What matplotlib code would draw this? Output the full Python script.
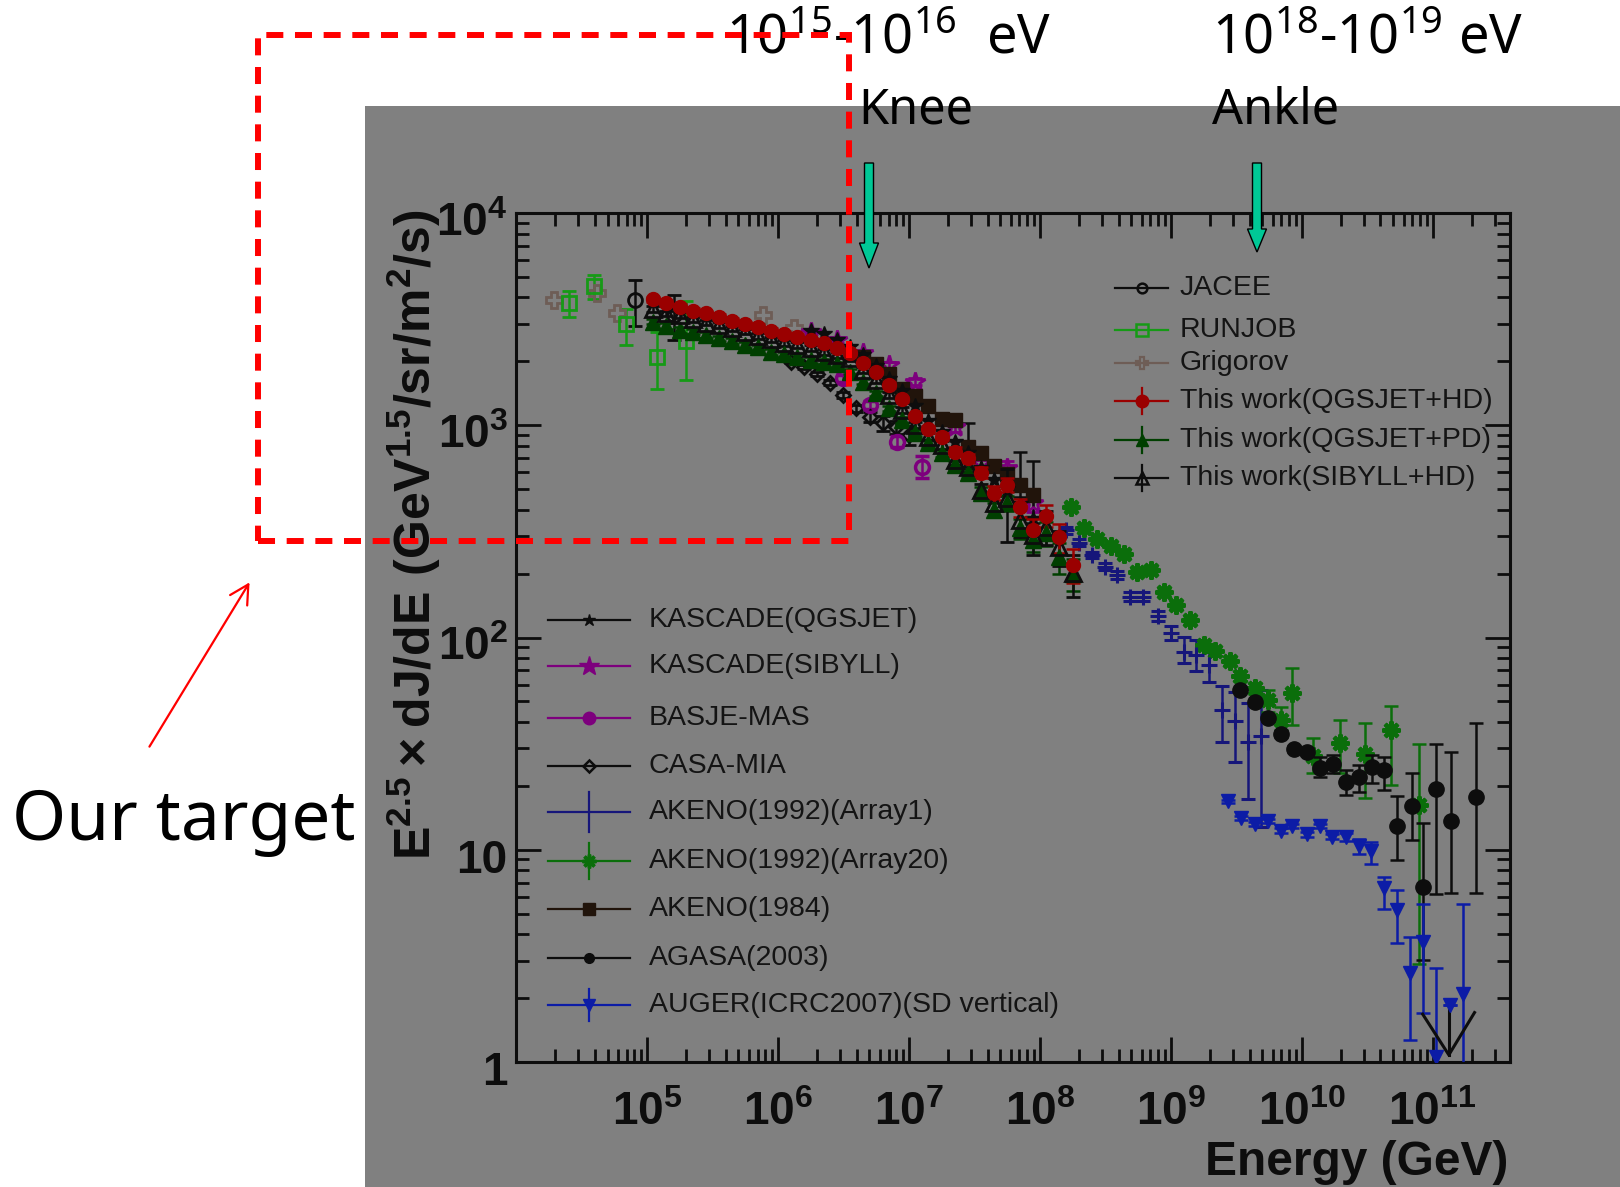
import numpy as np
import matplotlib
matplotlib.use("Agg")
import matplotlib.pyplot as plt
import matplotlib.transforms as mtransforms
from matplotlib.lines import Line2D
from matplotlib.patches import Rectangle, Polygon, FancyArrowPatch
from matplotlib.ticker import LogLocator, NullFormatter

plt.rcParams["font.family"] = ["Liberation Sans", "DejaVu Sans"]

# ------------------------------------------------------------------ data
# "This work" reconstructions share one energy grid (GeV)
work_energy = [1.12e5, 1.41e5, 1.78e5, 2.24e5, 2.82e5, 3.55e5, 4.47e5, 5.62e5, 7.08e5, 8.91e5,
               1.12e6, 1.41e6, 1.78e6, 2.24e6, 2.82e6, 3.55e6, 4.47e6, 5.62e6, 7.08e6, 8.91e6,
               1.12e7, 1.41e7, 1.78e7, 2.24e7, 2.82e7, 3.55e7, 4.47e7, 5.62e7, 7.08e7, 8.91e7,
               1.12e8, 1.41e8, 1.78e8]
qgsjet_hd = [3920, 3760, 3620, 3470, 3365, 3245, 3100, 2990, 2910, 2790,
             2690, 2610, 2520, 2430, 2300, 2200, 1970, 1790, 1550, 1325,
             1105, 957, 883, 752, 698, 598, 481, 524, 410, 321,
             375, 296, 220]
qgsjet_hd_err = [110, 100, 95, 90, 90, 85, 85, 80, 80, 75, 75, 70, 70, 65, 65, 60, 55, 50, 45, 40,
                 35, 35, 35, 35, 35, 35, 35, 40, 40, 40, 45, 45, 40]
qgsjet_pd = [3076, 2938, 2812, 2761, 2661, 2570, 2495, 2388, 2328, 2218,
             2158, 2104, 2028, 1995, 1940, 1786, 1603, 1413, 1202, 1059,
             916, 822, 738, 650, 594, 479, 399, 429, 327, 288,
             310, 240, 200]
qgsjet_pd_err = [90, 85, 80, 80, 75, 75, 70, 70, 65, 65, 60, 60, 60, 55, 55, 50, 45, 40, 35, 30,
                 30, 30, 30, 30, 30, 30, 30, 35, 35, 35, 40, 40, 35]
sibyll_hd = [3540, 3365, 3304, 3157, 3046, 2965, 2864, 2761, 2636, 2541,
             2450, 2388, 2307, 2218, 2150, 2066, 1820, 1633, 1390, 1180,
             1002, 883, 807, 685, 638, 495, 429, 453, 358, 304,
             333, 268, 201]
sibyll_hd_err = [110, 100, 95, 90, 90, 85, 85, 80, 80, 75, 75, 70, 70, 65, 65, 60, 55, 50, 45, 40,
                 35, 35, 35, 35, 35, 35, 35, 170, 60, 60, 60, 50, 45]

# direct measurements
jacee_energy = [8.1e4, 1.62e5]
jacee_flux = [3890, 3300]
jacee_lo = [954, 777]
jacee_hi = [930, 810]

runjob_energy = [2.55e4, 3.96e4, 6.87e4, 1.19e5, 1.99e5]
runjob_flux = [3755, 4530, 2990, 2105, 2497]
runjob_lo = [519, 610, 602, 629, 864]
runjob_hi = [550, 570, 527, 656, 1367]

grigorov_energy = [1.95e4, 4.13e4, 5.87e4, 7.73e5, 1.32e6]
grigorov_flux = [3890, 4215, 3370, 3305, 2860]

# air-shower arrays
kascade_qgs_energy = [1.78e6, 2.24e6, 2.82e6, 3.55e6, 4.47e6, 5.62e6, 7.08e6, 8.91e6, 1.12e7,
                      1.41e7, 1.78e7, 2.24e7, 2.82e7, 3.55e7, 4.47e7, 5.62e7, 7.08e7, 8.91e7]
kascade_qgs_flux = [2786, 2692, 2512, 2344, 2138, 1905, 1660, 1445, 1230,
                    1047, 933, 832, 741, 631, 550, 501, 427, 363]

kascade_sib_energy = [1.78e6, 2.82e6, 4.47e6, 7.08e6, 1.12e7, 2.24e7, 3.55e7, 5.62e7, 8.91e7]
kascade_sib_flux = [2754, 2512, 2183, 1919, 1603, 977, 662, 627, 429]
kascade_sib_err = [60, 60, 60, 60, 60, 50, 45, 50, 40]

basje_energy = [3.16e6, 5.01e6, 8.13e6, 1.26e7]
basje_flux = [1667, 1247, 838, 638]
basje_err = [60, 60, 50, 75]

casa_energy = [1.26e6, 1.58e6, 2.00e6, 2.51e6, 3.16e6, 3.98e6, 5.01e6, 6.31e6, 7.94e6, 1.00e7]
casa_flux = [1995, 1875, 1738, 1585, 1390, 1202, 1096, 1021, 977, 899]
casa_err = [40, 40, 40, 40, 40, 50, 60, 80, 70, 90]

akeno84_energy = [4.47e6, 5.62e6, 7.08e6, 8.91e6, 1.12e7, 1.41e7, 1.78e7,
                  2.24e7, 2.82e7, 3.55e7, 4.47e7, 5.62e7, 7.08e7, 8.91e7]
akeno84_flux = [2089, 1950, 1738, 1479, 1380, 1230, 1072, 1059, 794, 741, 646, 589, 525, 468]
akeno84_lo = [40, 40, 40, 40, 40, 40, 40, 40, 156, 40, 40, 40, 64, 121]
akeno84_hi = [40, 40, 40, 40, 40, 40, 40, 40, 227, 40, 40, 40, 227, 207]

akeno_a1_energy = [1.58e8, 2.00e8, 2.51e8, 3.16e8, 3.89e8, 4.90e8, 6.17e8, 7.94e8,
                   1.00e9, 1.26e9, 1.55e9, 1.95e9, 2.45e9, 3.09e9, 3.89e9, 4.90e9]
akeno_a1_flux = [321, 280, 245, 216, 197, 156, 156, 126, 105, 85.7, 82.8, 74.1, 45.5, 40.6, 32.3, 34.4]
akeno_a1_lo = [12, 10, 9, 8, 8, 7, 7, 7, 8, 10.2, 13.5, 12.2, 13.2, 14.8, 15.0, 21.6]
akeno_a1_hi = [12, 10, 9, 8, 8, 7, 7, 7, 8, 15.3, 14.5, 13.2, 13.6, 14.5, 16.7, 22.2]

akeno_a20_energy = [1.74e8, 2.19e8, 2.75e8, 3.47e8, 4.37e8, 5.50e8, 7.08e8, 8.91e8, 1.10e9,
                    1.41e9, 1.78e9, 2.19e9, 2.82e9, 3.39e9, 4.37e9, 5.50e9, 6.92e9, 8.51e9,
                    1.23e10, 1.95e10, 3.02e10, 4.79e10, 7.94e10]
akeno_a20_flux = [413, 327, 290, 270, 247, 204, 207, 164, 142, 121, 92.3, 86.1, 77.6, 65.9,
                  57.7, 50.8, 40.8, 55.0, 27.7, 31.8, 28.4, 36.5, 16.3]
akeno_a20_lo = [12, 10, 9, 8, 8, 7, 7, 6, 5, 5, 4, 4, 3.5, 3.5, 3.5, 6.1, 4.2, 16.3, 4.8, 8.9, 10.9, 16.4, 13.4]
akeno_a20_hi = [12, 10, 9, 8, 8, 7, 7, 6, 5, 5, 4, 4, 3.5, 3.5, 3.5, 5.8, 6.2, 16.6, 5.8, 9.1, 11.3, 11.3, 15.2]

agasa_energy = [3.39e9, 4.37e9, 5.50e9, 6.92e9, 8.71e9, 1.10e10, 1.38e10, 1.74e10, 2.19e10,
                2.75e10, 3.47e10, 4.27e10, 5.37e10, 6.92e10, 8.51e10, 1.07e11, 1.38e11, 2.14e11]
agasa_flux = [56.6, 49.5, 41.6, 35.1, 29.9, 29.0, 24.2, 25.4, 20.9, 21.9, 24.5, 23.8,
              12.9, 16.1, 6.70, 19.3, 13.6, 17.8]
agasa_lo = [1.5, 1.3, 1.2, 1.1, 1.0, 1.0, 2.1, 2.5, 2.8, 3.1, 3.9, 4.7, 3.95, 5.0, 3.67, 13.1, 7.36, 11.56]
agasa_hi = [1.5, 1.3, 1.2, 1.1, 1.0, 1.0, 3.2, 2.5, 2.9, 3.2, 3.4, 3.6, 5.0, 6.8, 6.6, 12.2, 15.3, 21.7]
# upper-limit arrow drawn at the highest AGASA bin
agasa_limit_x = [8.4e10, 1.33e11, 2.09e11]
agasa_limit_y = [1.68, 1.08, 1.71]
agasa_limit_shaft_y = [1.08, 1.86]

auger_energy = [2.75e9, 3.47e9, 4.37e9, 5.50e9, 6.92e9, 8.51e9, 1.10e10, 1.38e10, 1.70e10, 2.19e10,
                2.75e10, 3.39e10, 4.27e10, 5.37e10, 6.76e10, 8.51e10, 1.07e11, 1.35e11, 1.70e11]
auger_flux = [16.9, 14.1, 13.2, 13.7, 12.3, 12.9, 11.8, 12.9, 11.5, 11.5,
              10.4, 9.91, 6.58, 5.20, 2.62, 3.69, 1.06, 1.86, 2.09]
auger_lo = [0.3, 0.3, 0.3, 0.3, 0.3, 0.3, 0.3, 0.3, 0.3, 0.5, 0.8, 1.34, 1.34, 1.58, 1.35, 1.99, 0.9, 0, 1.6]
auger_hi = [0.3, 0.3, 0.3, 0.3, 0.3, 0.3, 0.3, 0.3, 0.3, 0.5, 0.8, 0.99, 0.89, 1.26, 1.27, 1.86, 1.70, 0, 3.46]

x_tick_values = [1e5, 1e6, 1e7, 1e8, 1e9, 1e10, 1e11]
x_tick_labels = [r"$\mathdefault{10^{5}}$", r"$\mathdefault{10^{6}}$", r"$\mathdefault{10^{7}}$",
                 r"$\mathdefault{10^{8}}$", r"$\mathdefault{10^{9}}$", r"$\mathdefault{10^{10}}$",
                 r"$\mathdefault{10^{11}}$"]
y_tick_values = [1, 10, 100, 1000, 10000]
y_tick_labels = ["1", "10", r"$\mathdefault{10^{2}}$", r"$\mathdefault{10^{3}}$", r"$\mathdefault{10^{4}}$"]

# ------------------------------------------------------------------ colours
INK = "#0d0d0d"
RED = "#9a0000"
DKGREEN = "#003f00"
GREEN_RJ = "#169a16"
GREEN_A20 = "#0b6e0b"
GRIG = "#6e5d56"
MAGENTA = "#7d007d"
NAVY = "#16167a"
BLUE = "#0c1ca6"
BROWN = "#21140b"
TEAL = "#00c896"

# ------------------------------------------------------------------ figure
W, H = 1620, 1187
fig = plt.figure(figsize=(W / 100, H / 100), dpi=100)
fig.patch.set_facecolor("white")


def fx(px):
    return px / W


def fy(py):
    return 1.0 - py / H


fig.add_artist(Rectangle((fx(365), 0), 1 - fx(365), fy(106), transform=fig.transFigure,
                         facecolor="#808080", edgecolor="none", zorder=-5))

ax = fig.add_axes([fx(516), fy(1062), fx(1510) - fx(516), fy(213) - fy(1062)])
ax.set_facecolor("none")
ax.set_xscale("log")
ax.set_yscale("log")
ax.set_xlim(1e4, 3.9e11)
ax.set_ylim(1, 1e4)

for sp in ax.spines.values():
    sp.set_linewidth(2.2)
    sp.set_color(INK)

ax.set_xticks(x_tick_values)
ax.set_xticklabels(x_tick_labels, fontsize=33, fontweight="bold", color=INK)
ax.set_yticks(y_tick_values)
ax.set_yticklabels(y_tick_labels, fontsize=33, fontweight="bold", color=INK)
ax.xaxis.set_minor_locator(LogLocator(base=10, subs=np.arange(2, 10), numticks=30))
ax.yaxis.set_minor_locator(LogLocator(base=10, subs=np.arange(2, 10), numticks=30))
ax.xaxis.set_minor_formatter(NullFormatter())
ax.yaxis.set_minor_formatter(NullFormatter())
ax.tick_params(which="major", direction="in", length=18, width=2.0, top=True, right=True,
               color=INK)
ax.tick_params(which="minor", direction="in", length=9.5, width=2.0, top=True, right=True,
               color=INK)
ax.tick_params(axis="x", which="major", pad=21)
ax.tick_params(axis="y", which="major", pad=6)
# the y labels sit slightly below their ticks
shift = mtransforms.ScaledTranslation(0, -6 / 100, fig.dpi_scale_trans)
for lab in ax.get_yticklabels():
    lab.set_transform(lab.get_transform() + shift)

ekw = dict(ls="none", capsize=5, capthick=1.8, elinewidth=1.8)

ax.errorbar(grigorov_energy, grigorov_flux, fmt="P", ms=11, mfc="none", mec=GRIG, mew=2,
            color=GRIG, ls="none", zorder=3)
ax.errorbar(runjob_energy, runjob_flux, yerr=[runjob_lo, runjob_hi], fmt="s", ms=10, mfc="none",
            mec=GREEN_RJ, mew=2, color=GREEN_RJ, **ekw, zorder=3)
ax.errorbar(jacee_energy, jacee_flux, yerr=[jacee_lo, jacee_hi], fmt="o", ms=10, mfc="none",
            mec=INK, mew=2, color=INK, **ekw, zorder=3)
ax.errorbar(casa_energy, casa_flux, yerr=casa_err, fmt="D", ms=7, mfc="none", mec=INK, mew=2,
            color=INK, **ekw, zorder=3)
ax.errorbar(basje_energy, basje_flux, yerr=basje_err, fmt="o", ms=10, mfc="none", mec=MAGENTA,
            mew=2.5, color=MAGENTA, **ekw, zorder=3)
ax.errorbar(kascade_sib_energy, kascade_sib_flux, yerr=kascade_sib_err, fmt="*", ms=15,
            mfc="none", mec=MAGENTA, mew=2, color=MAGENTA, **ekw, zorder=3)
ax.errorbar(akeno84_energy, akeno84_flux, yerr=[akeno84_lo, akeno84_hi], fmt="s", ms=10,
            mfc=BROWN, mec=BROWN, color=INK, **ekw, zorder=3)
ax.errorbar(kascade_qgs_energy, kascade_qgs_flux, fmt="*", ms=12, mfc=INK, mec=INK,
            color=INK, ls="none", zorder=3)
ax.errorbar(work_energy, qgsjet_pd, yerr=qgsjet_pd_err, fmt="^", ms=11, mfc=DKGREEN,
            mec=DKGREEN, color=DKGREEN, **ekw, zorder=4)
ax.errorbar(work_energy, sibyll_hd, yerr=sibyll_hd_err, fmt="^", ms=11, mfc="none",
            mec=INK, mew=2, color=INK, **ekw, zorder=4)
ax.errorbar(work_energy, qgsjet_hd, yerr=qgsjet_hd_err, fmt="o", ms=10, mfc=RED,
            mec=RED, color=RED, **ekw, zorder=4)
ax.errorbar(akeno_a1_energy, akeno_a1_flux, yerr=[akeno_a1_lo, akeno_a1_hi], fmt="+", ms=12,
            mew=2.2, color=NAVY, **ekw, zorder=3)
ax.errorbar(akeno_a20_energy, akeno_a20_flux, yerr=[akeno_a20_lo, akeno_a20_hi],
            fmt="none", color=GREEN_A20, **ekw, zorder=3)
ax.plot(akeno_a20_energy, akeno_a20_flux, ls="none", marker=(8, 2, 0), ms=13, mew=3,
        color=GREEN_A20, zorder=3)
ax.errorbar(agasa_energy, agasa_flux, yerr=[agasa_lo, agasa_hi], fmt="o", ms=11, mfc=INK,
            mec=INK, color=INK, **ekw, zorder=4)
ax.errorbar(auger_energy, auger_flux, yerr=[auger_lo, auger_hi], fmt="v", ms=10, mfc=BLUE,
            mec=BLUE, color=BLUE, **ekw, zorder=4)
ax.plot(agasa_limit_x, agasa_limit_y, color=INK, lw=2.2, zorder=4)
ax.plot([agasa_limit_x[1], agasa_limit_x[1]], agasa_limit_shaft_y, color=INK, lw=2.2, zorder=4)

# ------------------------------------------------------------------ axis titles
fig.text(fx(414), fy(535),
         r"$\mathdefault{E^{2.5}\times dJ/dE\ (GeV^{1.5}/sr/m^{2}/s)}$",
         rotation=90, ha="center", va="center", fontsize=36, fontweight="bold", color=INK)
fig.text(fx(1508), fy(1175), "Energy (GeV)", ha="right", va="baseline",
         fontsize=34.5, fontweight="bold", color=INK)


# ------------------------------------------------------------------ legends
def legend_row(x0, x1, y, text, color, marker=None, ms=8, mfc=None, mew=1.8, vbar=0, xt=None):
    xm = 0.5 * (x0 + x1)
    fig.add_artist(Line2D([fx(x0), fx(x1)], [fy(y), fy(y)], transform=fig.transFigure,
                          color=color, lw=1.6, zorder=6))
    if vbar:
        fig.add_artist(Line2D([fx(xm), fx(xm)], [fy(y - vbar), fy(y + vbar)],
                              transform=fig.transFigure, color=color, lw=1.6, zorder=6))
    if marker is not None:
        fig.add_artist(Line2D([fx(xm)], [fy(y)], transform=fig.transFigure, ls="none",
                              marker=marker, ms=ms, mfc=color if mfc is None else mfc,
                              mec=color, mew=mew, zorder=7))
    fig.text(fx(xt), fy(y), text, ha="left", va="center", fontsize=20.5, color="#141414",
             zorder=7)


upper_rows = [288, 330, 363, 401, 440, 478]
ux0, ux1, uxt = 1115, 1168, 1180
legend_row(ux0, ux1, upper_rows[0], "JACEE", INK, "o", 7, "none", 1.8, xt=uxt)
legend_row(ux0, ux1, upper_rows[1], "RUNJOB", GREEN_RJ, "s", 8, "none", 1.8, xt=uxt)
legend_row(ux0, ux1, upper_rows[2], "Grigorov", GRIG, "P", 9, "none", 1.6, xt=uxt)
legend_row(ux0, ux1, upper_rows[3], "This work(QGSJET+HD)", RED, "o", 9, None, 1.0, vbar=13, xt=uxt)
legend_row(ux0, ux1, upper_rows[4], "This work(QGSJET+PD)", DKGREEN, "^", 9, None, 1.0, vbar=13, xt=uxt)
legend_row(ux0, ux1, upper_rows[5], "This work(SIBYLL+HD)", INK, "^", 9, "none", 1.8, vbar=13, xt=uxt)

lower_rows = [620, 666, 718, 766, 812, 861, 909, 958, 1005]
lx0, lx1, lxt = 548, 630, 649
legend_row(lx0, lx1, lower_rows[0], "KASCADE(QGSJET)", INK, "*", 9, None, 1.0, xt=lxt)
legend_row(lx0, lx1, lower_rows[1], "KASCADE(SIBYLL)", MAGENTA, "*", 15, None, 1.0, xt=lxt)
legend_row(lx0, lx1, lower_rows[2], "BASJE-MAS", MAGENTA, "o", 9, None, 1.0, xt=lxt)
legend_row(lx0, lx1, lower_rows[3], "CASA-MIA", INK, "D", 6, "none", 1.8, xt=lxt)
legend_row(lx0, lx1, lower_rows[4], "AKENO(1992)(Array1)", NAVY, None, vbar=20, xt=lxt)
legend_row(lx0, lx1, lower_rows[5], "AKENO(1992)(Array20)", GREEN_A20, (8, 2, 0), 10, None, 2.5, vbar=18, xt=lxt)
legend_row(lx0, lx1, lower_rows[6], "AKENO(1984)", BROWN, "s", 8, None, 1.0, xt=lxt)
legend_row(lx0, lx1, lower_rows[7], "AGASA(2003)", INK, "o", 7, None, 1.0, xt=lxt)
legend_row(lx0, lx1, lower_rows[8], "AUGER(ICRC2007)(SD vertical)", BLUE, "v", 8, None, 1.0, vbar=16, xt=lxt)

# ------------------------------------------------------------------ annotations
NOTE_FONT = ["Noto Sans", "DejaVu Sans"]
fig.text(fx(726), fy(54), r"$\mathdefault{10^{15}}$-$\mathdefault{10^{16}}$  eV",
         family=NOTE_FONT, fontsize=39, color="black", va="baseline", ha="left", zorder=20)
fig.text(fx(858), fy(124), "Knee", family=NOTE_FONT, fontsize=35, color="black",
         va="baseline", ha="left", zorder=20)
fig.text(fx(1212), fy(54), r"$\mathdefault{10^{18}}$-$\mathdefault{10^{19}}$ eV",
         family=NOTE_FONT, fontsize=39, color="black", va="baseline", ha="left", zorder=20)
fig.text(fx(1212), fy(124), "Ankle", family=NOTE_FONT, fontsize=35, color="black",
         va="baseline", ha="left", zorder=20)
fig.text(fx(12), fy(840), "Our target", family=NOTE_FONT, fontsize=50, color="black",
         va="baseline", ha="left", zorder=20)


def down_arrow(xc, top, base, tip, shaft_hw=4.5, head_hw=9.5):
    pts = [(xc - shaft_hw, top), (xc + shaft_hw, top), (xc + shaft_hw, base),
           (xc + head_hw, base), (xc, tip), (xc - head_hw, base), (xc - shaft_hw, base)]
    fig.add_artist(Polygon([(fx(px), fy(py)) for px, py in pts], closed=True,
                           transform=fig.transFigure, facecolor=TEAL, edgecolor="black",
                           lw=1.0, zorder=21))


down_arrow(869, 163, 243, 268)
down_arrow(1257, 163, 229, 252)

fig.add_artist(Rectangle((fx(258), fy(541)), fx(849) - fx(258), fy(35) - fy(541),
                         transform=fig.transFigure, fill=False, edgecolor="#ff0000",
                         lw=4.3, linestyle=(0, (2.85, 1.95)), zorder=22))

fig.add_artist(FancyArrowPatch((fx(148), fy(749)), (fx(251), fy(580)),
                               transform=fig.transFigure,
                               arrowstyle="->,head_length=0.67,head_width=0.36",
                               mutation_scale=20, color="#ff0000", lw=1.6, zorder=22))

fig.savefig("out.png", dpi=100, facecolor="white")
